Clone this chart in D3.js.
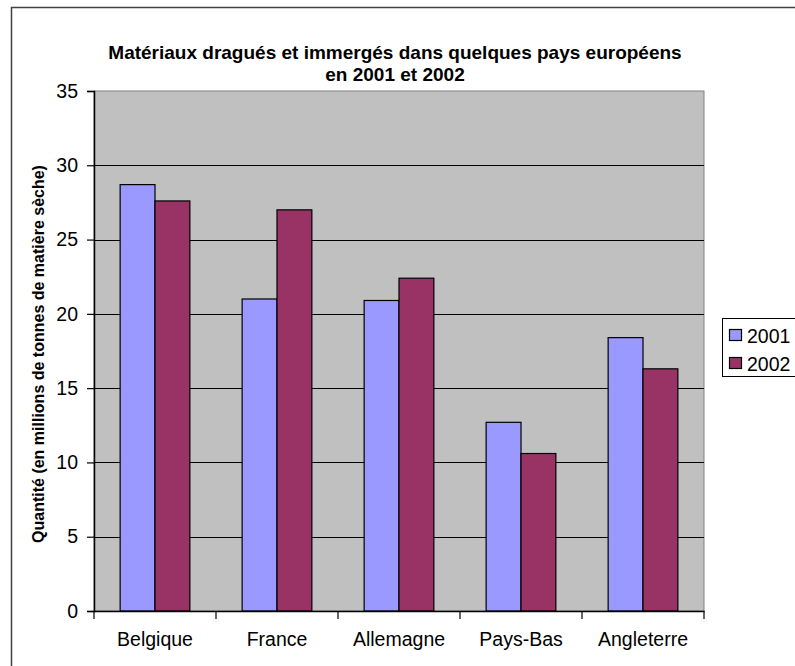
<!DOCTYPE html>
<html>
<head>
<meta charset="utf-8">
<script src="https://cdn.jsdelivr.net/npm/d3@7"></script>
<style>
  html, body { margin: 0; padding: 0; background: #fff; }
  svg { display: block; }
  text { font-family: "Liberation Sans", Arial, sans-serif; fill: #000; }
</style>
</head>
<body>
<svg id="chart" width="795" height="666"></svg>
<script>
const categories = ["Belgique", "France", "Allemagne", "Pays-Bas", "Angleterre"];
const seriesNames = ["2001", "2002"];
const values2001 = [28.7, 21.0, 20.9, 12.7, 18.4];
const values2002 = [27.6, 27.0, 22.4, 10.6, 16.3];
const yTicks = [0, 5, 10, 15, 20, 25, 30, 35];
const titleLines = ["Matériaux dragués et immergés dans quelques pays européens", "en 2001 et 2002"];
const yAxisTitle = "Quantité (en millions de tonnes de matière sèche)";
const colors = ["#9999FF", "#993366"];

const svg = d3.select("#chart");
const plot = { left: 94, right: 704, top: 91, bottom: 611 };

// outer frame
svg.append("path")
  .attr("d", "M11.5,670 L11.5,7.5 L800,7.5")
  .attr("fill", "none").attr("stroke", "#404040").attr("stroke-width", 1.5);

const x = d3.scaleBand().domain(categories).range([plot.left, plot.right]).paddingInner(0).paddingOuter(0);
const y = d3.scaleLinear().domain([0, 35]).range([plot.bottom, plot.top]);
const bw = x.bandwidth() / 3.5;
const xs = d3.scaleBand().domain(seriesNames).range([0.75 * bw, 2.75 * bw]);

// plot background
svg.append("rect")
  .attr("x", plot.left).attr("y", plot.top)
  .attr("width", plot.right - plot.left).attr("height", plot.bottom - plot.top)
  .attr("fill", "#C0C0C0").attr("stroke", "#808080").attr("stroke-width", 1);

// gridlines
svg.append("g").selectAll("line").data(yTicks.filter(t => t > 0 && t < 35)).join("line")
  .attr("x1", plot.left).attr("x2", plot.right)
  .attr("y1", d => Math.round(y(d)) + 0.5).attr("y2", d => Math.round(y(d)) + 0.5)
  .attr("stroke", "#000").attr("stroke-width", 1);

// bars
const data = categories.map((c, i) => ({ c, v: [values2001[i], values2002[i]] }));
const groups = svg.append("g").selectAll("g").data(data).join("g")
  .attr("transform", d => `translate(${x(d.c)},0)`);
groups.selectAll("rect").data(d => d.v.map((v, j) => ({ v, s: seriesNames[j], j }))).join("rect")
  .attr("x", d => xs(d.s))
  .attr("width", xs.bandwidth())
  .attr("y", d => y(d.v))
  .attr("height", d => y(0) - y(d.v))
  .attr("fill", d => colors[d.j])
  .attr("stroke", "#000").attr("stroke-width", 1.2);

// y axis
const yAxis = svg.append("g").attr("transform", `translate(${plot.left},0)`)
  .call(d3.axisLeft(y).tickValues(yTicks).tickSize(7).tickPadding(9).tickFormat(d3.format("d")));
yAxis.select(".domain").attr("stroke", "#000").attr("stroke-width", 1.5);
yAxis.selectAll(".tick line").attr("stroke", "#000").attr("stroke-width", 1.2);
yAxis.selectAll("text").attr("font-size", "19.5px").attr("font-family", "'Liberation Sans', Arial, sans-serif").attr("fill", "#000");

// x axis
const xAxis = svg.append("g").attr("transform", `translate(0,${plot.bottom})`)
  .call(d3.axisBottom(x).tickSize(0).tickPadding(21));
xAxis.select(".domain").attr("stroke", "#000").attr("stroke-width", 1.5);
xAxis.selectAll("text").attr("font-size", "19.5px").attr("font-family", "'Liberation Sans', Arial, sans-serif").attr("fill", "#000");
// boundary tick marks
const boundaries = categories.map(c => x(c)).concat([x(categories[categories.length - 1]) + x.bandwidth()]);
svg.append("g").selectAll("line").data(boundaries).join("line")
  .attr("x1", d => d).attr("x2", d => d)
  .attr("y1", plot.bottom).attr("y2", plot.bottom + 8)
  .attr("stroke", "#000").attr("stroke-width", 1.2);

// title
svg.append("text").attr("x", 395).attr("text-anchor", "middle")
  .attr("font-size", "19px").attr("font-weight", "bold")
  .selectAll("tspan").data(titleLines).join("tspan")
  .attr("x", 395).attr("y", (d, i) => 59 + i * 22).text(d => d);

// y axis title
svg.append("text")
  .attr("transform", "translate(44,354) rotate(-90)")
  .attr("text-anchor", "middle").attr("font-size", "16px").attr("font-weight", "bold")
  .text(yAxisTitle);

// legend
const lg = svg.append("g");
lg.append("rect").attr("x", 722.5).attr("y", 318.5).attr("width", 100).attr("height", 58)
  .attr("fill", "#fff").attr("stroke", "#000").attr("stroke-width", 1);
seriesNames.forEach((s, i) => {
  lg.append("rect").attr("x", 729.5).attr("y", 329.5 + i * 28).attr("width", 12).attr("height", 11)
    .attr("fill", colors[i]).attr("stroke", "#000").attr("stroke-width", 1.2);
  lg.append("text").attr("x", 747).attr("y", 343 + i * 28).attr("font-size", "19.5px").text(s);
});
</script>
</body>
</html>
